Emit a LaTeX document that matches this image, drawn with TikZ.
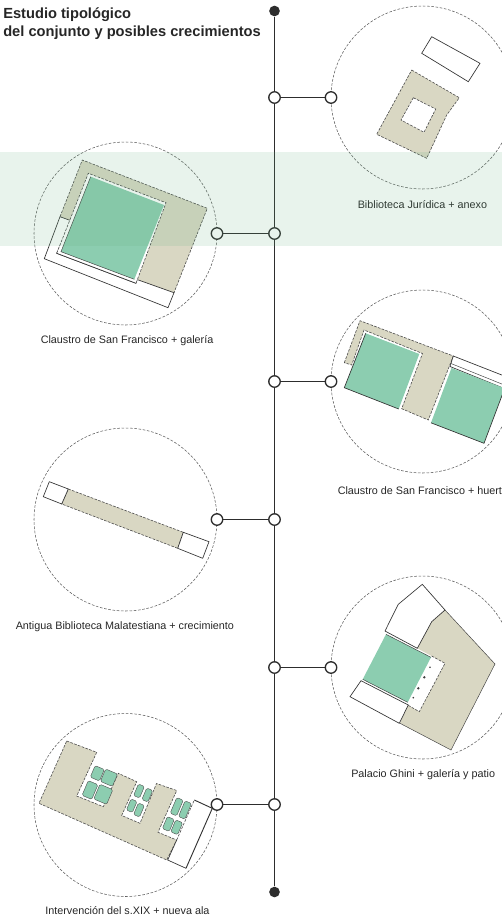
\documentclass[tikz,border=0pt]{standalone}
\usepackage{fontspec}
\setmainfont{Liberation Sans}
\definecolor{tealpatio}{RGB}{140,205,176}
\definecolor{khaki}{RGB}{217,215,195}
\definecolor{bandgreen}{RGB}{102,175,128}
\definecolor{inkdark}{RGB}{45,45,45}
\tikzset{
	stop/.style={circle,draw=inkdark,fill=white,line width=1pt,inner sep=0pt,minimum size=8.6pt},
	endstop/.style={circle,fill=inkdark,inner sep=0pt,minimum size=8pt},
	ring/.style={circle,draw=black!65,dash pattern={on 2pt off 1.2pt},line width=0.4pt,inner sep=0pt,minimum size=137.25pt},
	link/.style={draw=inkdark,line width=1pt},
	solar/.style={fill=khaki,draw=black!70,line width=0.45pt,dash pattern={on 2pt off 1pt}},
	built/.style={fill=white,draw=black!80,line width=0.5pt},
	patio/.style={fill=tealpatio,draw=none},
	edge/.style={draw=black!80,line width=0.5pt},
	thinedge/.style={draw=black!75,line width=0.35pt},
	cutedge/.style={draw=black!70,line width=0.45pt,dash pattern={on 2pt off 1pt}},
	pane/.style={fill=tealpatio,draw=black!70,line width=0.3pt,rounded corners=1.1pt,rotate=-23,inner sep=0pt},
	caption/.style={inner sep=0pt,anchor=west,text=black!85,font=\fontsize{8.1pt}{9pt}\selectfont},
}
\begin{document}
\begin{tikzpicture}[x=0.75pt,y=0.75pt,yscale=-1,xscale=1]
\useasboundingbox (0,0) rectangle (502,917);

%Shape: Circles
\node[ring] (ringA) at (422.5,97.5) {};
\node[ring] (ringB) at (125.5,233.5) {};
\node[ring] (ringC) at (422.5,381.5) {};
\node[ring] (ringD) at (125.5,519.5) {};
\node[ring] (ringE) at (422.5,667.5) {};
\node[ring] (ringF) at (125.5,805) {};

%Shape: Biblioteca Juridica
\draw[built] (431.7,36.7) -- (480,63.3) -- (468.3,81.7) -- (421.7,53.3) -- cycle;
\draw[solar] (411.7,70) -- (459.3,97.7) -- (446.7,115) -- (426.7,158.3) -- (376.7,134.3) -- cycle;
\draw[solar,fill=white] (413.3,97.7) -- (435.7,109) -- (424,132.3) -- (401,120) -- cycle;

%Shape: Claustro + galeria
\fill[khaki] (82.3,160) -- (207.3,208.3) -- (174,292.7) -- (136,283) -- (60,216.7) -- cycle;
\draw[cutedge] (60,216.7) -- (82.3,160) -- (207.3,208.3) -- (174,292.7);
\draw[built] (60,216.7) -- (71,220.7) -- (56.7,253.3) -- (136,283.3) -- (137,279.5) -- (174,292.7) -- (168,307.7) -- (44.3,258.7) -- cycle;
\fill[white] (88.3,173.3) -- (166,202.7) -- (136,283.3) -- (56.7,253.3) -- cycle;
\draw[cutedge] (56.7,253.3) -- (88.3,173.3) -- (166,202.7) -- (136,283.3);
\draw[edge] (56.7,253.3) -- (136,283.3);
\fill[patio] (90.7,176.7) -- (164,205) -- (134.3,279.3) -- (61,251.7) -- cycle;
\draw[thinedge] (90.7,176.7) -- (61,251.7) -- (134.3,279.3);

%Shape: Claustro + huerta
\fill[khaki] (360,320.7) -- (453.3,356) -- (428.3,420) -- (401.7,408.7) -- (422.5,353.5) -- (364,330) -- (351.7,365) -- (344.3,362.7) -- cycle;
\draw[cutedge] (344.3,362.7) -- (360,320.7) -- (453.3,356) -- (428.3,420) -- (401.7,408.7) -- (422.5,353.5) -- (364,330) -- (351.7,365) -- cycle;
\draw[built] (453.3,356) -- (512,379) -- (508,390) -- (450,366.5) -- cycle;
\draw[thinedge] (451,363.5) -- (508,386.5);
\draw[patio] (365.7,333.3) -- (419.3,354) -- (398.7,409) -- (344.3,387.7) -- cycle;
\draw[edge] (365.7,333.3) -- (344.3,387.7) -- (398.7,409);
\draw[patio] (451.5,368) -- (504.7,388.3) -- (484,443.3) -- (431,422.8) -- cycle;
\draw[edge] (431,422.8) -- (484,443.3) -- (504.7,388.3);

%Shape: Malatestiana
\draw[solar] (68.3,489) -- (183.3,532.3) -- (177.7,548.3) -- (61.7,504) -- cycle;
\draw[built] (49.3,481.7) -- (68.3,489) -- (61.7,504) -- (43.3,496.7) -- cycle;
\draw[built] (183.3,532.3) -- (209,541.7) -- (202.7,558.3) -- (177.7,548.3) -- cycle;

%Shape: Palacio Ghini
\fill[khaki] (445,610) -- (495,664) -- (451,750) -- (400,723.3) -- (407.7,705) -- (419.3,711.7) -- (445,663.3) -- (417.3,648.3) -- (431.7,621.7) -- cycle;
\draw[thinedge] (445,610) -- (495,664) -- (451,750) -- (400,723.3);
\draw[built] (422.3,584.3) -- (445,610) -- (431.7,621.7) -- (417.3,648.3) -- (385,631) -- (398.3,604.3) -- cycle;
\draw[cutedge] (431.7,656) -- (445,663.3) -- (419.3,711.7) -- (407.7,705);
\draw[patio] (386,634.3) -- (431,657.3) -- (407.7,702.3) -- (362.7,679.3) -- cycle;
\draw[thinedge] (386,634.3) -- (431,657.3);
\draw[thinedge] (362.7,679.3) -- (407.7,702.3);
\draw[built] (361,680.7) -- (408.3,705) -- (399.3,723.3) -- (350,696.7) -- cycle;
\foreach \px/\py/\pr in {430/667.3/0.7,424.3/677.3/1,418.3/688.3/1,413.3/697.7/0.7}
	\fill[black!75] (\px,\py) circle (\pr pt);

%Shape: Intervencion
\draw[solar] (66.7,741) -- (96.7,752.3) -- (76.7,796) -- (103.3,806.7) -- (118.3,773.3) -- (136.7,781.7) -- (121.7,815.5) -- (140,823.3) -- (156.5,783.5) -- (176.7,790.5) -- (158,832.3) -- (176.7,840) -- (166.7,860) -- (39,803.3) -- cycle;
\fill[white] (194.3,800) -- (212.3,808.3) -- (186,868.3) -- (167.7,860) -- (176.7,840) -- cycle;
\draw[edge] (176.7,840) -- (167.7,860) -- (186,868.3);
\draw[edge,line width=0.7pt] (186,868.3) -- (212.3,808.3) -- (194.3,800);
\draw[cutedge] (176.7,840) -- (194.3,800);
\foreach \pname/\px/\py/\pw/\ph in {a/97.3/773.3/10/12.5,b/109/777.7/13/13.5,c/90/790/10.5/16,d/103.3/794.3/14/16,e/139/791/6.5/12.5,f/147.3/795/6.5/12.5,g/131.7/805.7/6.5/12,h/139/810/6.5/12.5,i/176.7/806.7/7/17,j/185/810/7/17,k/168.3/824/7.5/13,l/176.7/827.3/7.5/13}
	\node[pane,minimum width=\pw*0.75pt,minimum height=\ph*0.75pt] (pane\pname) at (\px,\py) {};

%Straight Lines
\node[endstop] (top) at (274.5,11) {};
\node[endstop] (bottom) at (274.5,892) {};
\node[stop] (axisA) at (274.5,97.5) {};
\node[stop] (axisB) at (274.5,233.5) {};
\node[stop] (axisC) at (274.5,381.5) {};
\node[stop] (axisD) at (274.5,519.5) {};
\node[stop] (axisE) at (274.5,667.5) {};
\node[stop] (axisF) at (274.5,804.5) {};
\node[stop] (endA) at (331,97.5) {};
\node[stop] (endB) at (217,233.5) {};
\node[stop] (endC) at (331,381.5) {};
\node[stop] (endD) at (217,519.5) {};
\node[stop] (endE) at (331,667.5) {};
\node[stop] (endF) at (217,804.5) {};
\foreach \from/\to in {top/axisA,axisA/axisB,axisB/axisC,axisC/axisD,axisD/axisE,axisE/axisF,axisF/bottom,axisA/endA,axisB/endB,axisC/endC,axisD/endD,axisE/endE,axisF/endF}
	\draw[link] (\from) -- (\to);

% Text Node
\node[inner sep=0pt,anchor=north west,align=left,text=black!85,font=\fontsize{11pt}{13.5pt}\selectfont\bfseries] (title) at (3,7) {Estudio tipológico\\del conjunto y posibles crecimientos};
\node[caption] (capA) at (357.5,205) {Biblioteca Jurídica + anexo};
\node[caption] (capB) at (40.5,341) {Claustro de San Francisco + galería};
\node[caption] (capC) at (337.5,491) {Claustro de San Francisco + huerta};
\node[caption] (capD) at (15.5,626.5) {Antigua Biblioteca Malatestiana + crecimiento};
\node[caption] (capE) at (351,775) {Palacio Ghini + galería y patio};
\node[caption] (capF) at (45,911) {Intervención del s.XIX + nueva ala};

%Shape: Band
\fill[bandgreen,fill opacity=0.15] (0,152) rectangle (502,246);

\end{tikzpicture}
\end{document}
